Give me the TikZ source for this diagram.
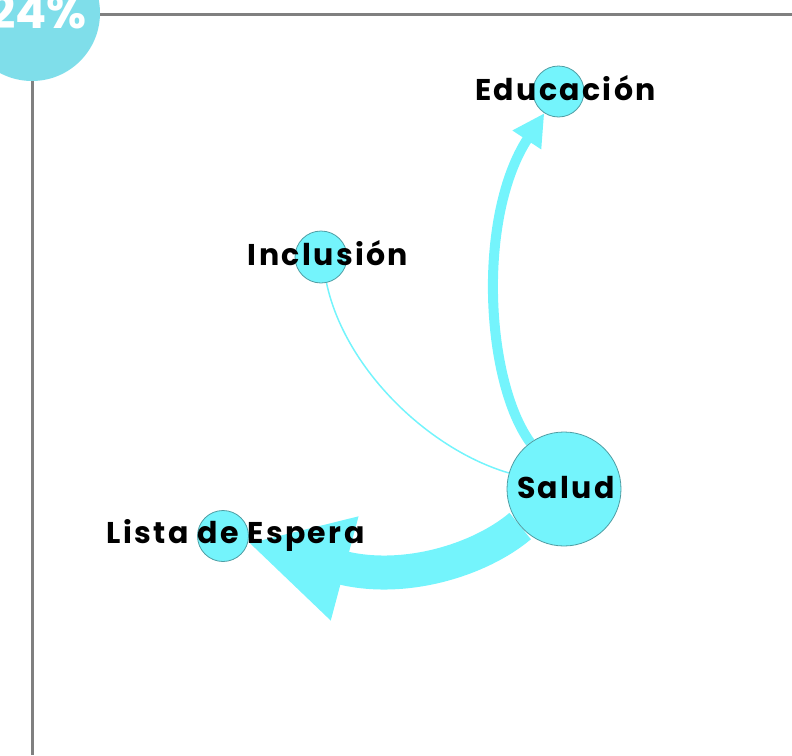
\documentclass[tikz,border=0pt]{standalone}
\usepackage{fontspec}
\setmainfont{Poppins}
\newfontfamily\lblfont[LetterSpace=8]{Poppins}
\usetikzlibrary{arrows.meta}
\definecolor{nodecyan}{HTML}{74F4FC}
\definecolor{edgecyan}{HTML}{74F4FC}
\definecolor{nodeborder}{HTML}{4F9DA3}
\definecolor{badge}{HTML}{7FDEEA}
\definecolor{axisgray}{HTML}{808080}
\pgfdeclarelayer{edges}
\pgfsetlayers{edges,main}
\begin{document}
\begin{tikzpicture}[x=1pt,y=-1pt,
  topic/.style={circle, fill=nodecyan, draw=nodeborder, line width=0.8pt, inner sep=0pt, minimum size=#1},
  lbl/.style={font=\lblfont\bfseries\fontsize{30}{34}\selectfont, text=black, inner sep=0pt},
  flow/.style={draw=edgecyan},
  axis/.style={draw=axisgray, line width=3pt}]
\useasboundingbox (0,0) rectangle (792,755);
% axes
\coordinate (hstart) at (100,14);
\coordinate (hend) at (792,14);
\coordinate (vstart) at (32,80);
\coordinate (vend) at (32,755);
\draw[axis] (hstart) -- (hend);
\draw[axis] (vstart) -- (vend);
% badge
\fill[badge] (32,13) circle[radius=68pt];
\node[anchor=base east, inner sep=0pt, text=white, font=\bfseries\fontsize{46}{50}\selectfont] (pct) at (87,28) {24\%};
% nodes
\node[topic=114pt] (salud) at (564,489) {};
\node[topic=51pt] (educ) at (558.5,91.5) {};
\node[topic=52pt] (incl) at (321,257) {};
\node[topic=51pt] (lista) at (223,536) {};
% edges
\begin{pgfonlayer}{edges}
\draw[flow, line width=10pt, -{Triangle[length=32pt, width=32pt]}] (salud) .. controls (485,380) and (477,216) .. (educ);
\draw[flow, line width=1.5pt] (salud) .. controls (430,450) and (345,370) .. (incl);
\draw[flow, line width=34pt, -{Triangle[length=100pt, width=100pt]}] (salud) .. controls (480,560) and (403,584) .. (lista);
\end{pgfonlayer}
% labels
\node[lbl] (educ-l) at (565.5,88) {Educación};
\node[lbl] (incl-l) at (328,253) {Inclusión};
\node[lbl] (lista-l) at (235.5,535) {Lista de Espera};
\node[lbl] (salud-l) at (566,488) {Salud};
\end{tikzpicture}
\end{document}
